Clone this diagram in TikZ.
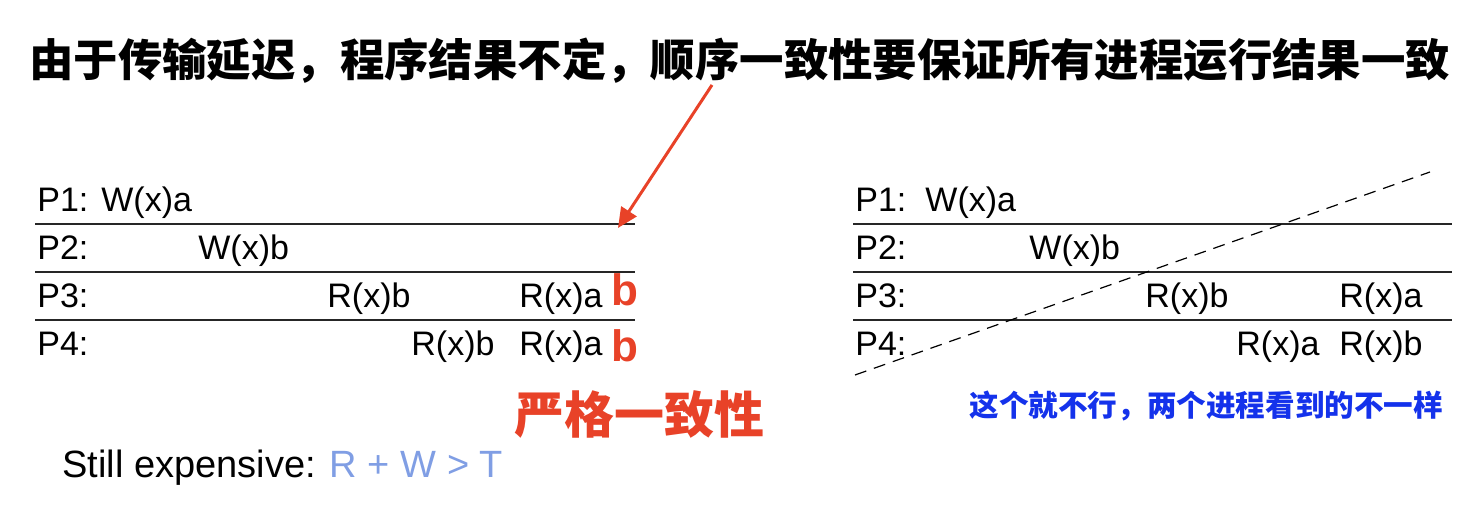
\documentclass[tikz,border=0pt]{standalone}
\usepackage{fontspec}
\setmainfont{Liberation Sans}
\newfontfamily\cjk{Noto Sans CJK SC}
\usetikzlibrary{arrows.meta, positioning}
\definecolor{hotred}{RGB}{232,66,40}
\definecolor{noblue}{RGB}{20,50,235}
\definecolor{paleblue}{RGB}{128,158,228}

\begin{document}
\begin{tikzpicture}[x=0.5pt, y=-0.5pt,
        op/.style={anchor=base west, inner sep=0pt, font=\fontsize{17}{17}\selectfont},
        mark b/.style={anchor=base west, inner sep=0pt, text=hotred, font=\fontsize{22}{22}\selectfont\bfseries},
        sep line/.style={line width=1pt, black!85},
        cn/.style={inner sep=0pt, font=\fontsize{#1}{#1}\selectfont\cjk\bfseries}]
                        \useasboundingbox (0, 0) rectangle (1464, 522);

                        % title
                        \node[cn=22.2, anchor=west] (title) at (29, 61) {由于传输延迟，程序结果不定，顺序一致性要保证所有进程运行结果一致};

                        % left run
                        \node[op] (lp1) at (37, 212) {P1:};
                        \node[op] (lp2) at (37, 260) {P2:};
                        \node[op] (lp3) at (37, 308) {P3:};
                        \node[op] (lp4) at (37, 356) {P4:};
                        \node[op] (lw1) at (101, 212) {W(x)a};
                        \node[op] (lw2) at (198, 260) {W(x)b};
                        \node[op] (lr3b) at (327, 308) {R(x)b};
                        \node[op] (lr3a) at (519, 308) {R(x)a};
                        \node[op] (lr4b) at (411, 356) {R(x)b};
                        \node[op] (lr4a) at (519, 356) {R(x)a};
                        \node[mark b] (lb3) at (611, 306) {b};
                        \node[mark b] (lb4) at (611, 362) {b};
                        \draw[sep line] (35, 224) -- (635, 224);
                        \draw[sep line] (35, 272) -- (635, 272);
                        \draw[sep line] (35, 320) -- (635, 320);

                        % right run
                        \node[op] (rp1) at (855, 212) {P1:};
                        \node[op] (rp2) at (855, 260) {P2:};
                        \node[op] (rp3) at (855, 308) {P3:};
                        \node[op] (rp4) at (855, 356) {P4:};
                        \node[op] (rw1) at (925, 212) {W(x)a};
                        \node[op] (rw2) at (1029, 260) {W(x)b};
                        \node[op] (rr3b) at (1145, 308) {R(x)b};
                        \node[op] (rr3a) at (1339, 308) {R(x)a};
                        \node[op] (rr4a) at (1236, 356) {R(x)a};
                        \node[op] (rr4b) at (1339, 356) {R(x)b};
                        \draw[sep line] (853, 224) -- (1452, 224);
                        \draw[sep line] (853, 272) -- (1452, 272);
                        \draw[sep line] (853, 320) -- (1452, 320);

                        \coordinate (cutlo) at (855, 375);
                        \coordinate (cuthi) at (1430, 172);
                        \draw[dashed, dash pattern=on 6pt off 4pt, line width=0.6pt] (cutlo) -- (cuthi);

                        % notes
                        \node[cn=25, text=hotred, anchor=west] (strict) at (514, 414) {严格一致性};
                        \node[cn=14.8, text=noblue, anchor=west] (bad) at (969, 406) {这个就不行，两个进程看到的不一样};
                        \node[anchor=base west, inner sep=0pt, font=\fontsize{19}{19}\selectfont] (cost) at (62, 478) {Still expensive: \textcolor{paleblue}{R + W > T}};

                        \coordinate (arrtail) at (712, 85);
                        \coordinate (arrhead) at (618, 228);
                        \draw[-{Triangle[length=10pt, width=9pt]}, hotred, line width=1.5pt] (arrtail) -- (arrhead);
                    \end{tikzpicture}
\end{document}
